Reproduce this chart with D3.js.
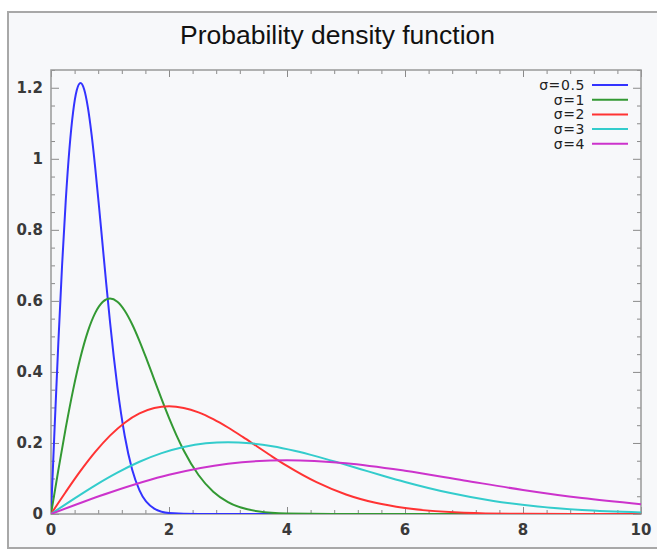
<!DOCTYPE html>
<html>
<head>
<meta charset="utf-8">
<script src="https://cdn.jsdelivr.net/npm/d3@7"></script>
<style>
  body { margin: 0; background: #fff; }
  svg { display: block; }
</style>
</head>
<body>
<div id="chart"></div>
<script>
// Series (x, density) for each sigma
const labels = ["σ=0.5", "σ=1", "σ=2", "σ=3", "σ=4"];
const colors = ["#3333ff", "#339933", "#ff3333", "#33cccc", "#cc33cc"];

const x_s05 = [0, 0.0625, 0.125, 0.1875, 0.25, 0.3125, 0.375, 0.4375, 0.5, 0.5625, 0.625, 0.6875, 0.75, 0.8125, 0.875, 0.9375, 1.0, 1.0625, 1.125, 1.25, 1.375, 1.5, 1.75, 2.0, 2.5, 10];
const y_s05 = [0, 0.2481, 0.4846, 0.6991, 0.8824, 1.0282, 1.1322, 1.1934, 1.2131, 1.1950, 1.1446, 1.0686, 0.9740, 0.8679, 0.7570, 0.6466, 0.5413, 0.4445, 0.3580, 0.2196, 0.1254, 0.0666, 0.0153, 0.0027, 0, 0];

const x_s1 = [0, 0.125, 0.25, 0.375, 0.5, 0.625, 0.75, 0.875, 1.0, 1.125, 1.25, 1.375, 1.5, 1.625, 1.75, 1.875, 2.0, 2.125, 2.25, 2.5, 2.75, 3.0, 3.5, 4.0, 5.0, 10];
const y_s1 = [0, 0.1240, 0.2423, 0.3495, 0.4412, 0.5141, 0.5661, 0.5967, 0.6065, 0.5975, 0.5723, 0.5343, 0.4870, 0.4339, 0.3785, 0.3233, 0.2707, 0.2223, 0.1790, 0.1098, 0.0627, 0.0333, 0.0077, 0.0013, 0, 0];

const x_s2 = [0, 0.25, 0.5, 0.75, 1, 1.25, 1.5, 1.75, 2, 2.25, 2.5, 2.75, 3, 3.25, 3.5, 3.75, 4, 4.5, 5, 5.5, 6, 7, 8, 10];
const y_s2 = [0, 0.0620, 0.1212, 0.1748, 0.2206, 0.2571, 0.2831, 0.2983, 0.3033, 0.2987, 0.2862, 0.2671, 0.2435, 0.2170, 0.1893, 0.1617, 0.1353, 0.0895, 0.0549, 0.0314, 0.0167, 0.0038, 0.0007, 0];

const x_s3 = [0, 0.375, 0.75, 1.125, 1.5, 1.875, 2.25, 2.625, 3, 3.375, 3.75, 4.125, 4.5, 4.875, 5.25, 5.625, 6, 6.75, 7.5, 8.25, 9, 10];
const y_s3 = [0, 0.0413, 0.0808, 0.1165, 0.1471, 0.1714, 0.1887, 0.1989, 0.2022, 0.1992, 0.1908, 0.1781, 0.1623, 0.1446, 0.1262, 0.1078, 0.0902, 0.0597, 0.0366, 0.0209, 0.0111, 0.0043];

const x_s4 = [0, 1, 2, 3, 4, 5, 6, 7, 8, 9, 10];
const y_s4 = [0, 0.0606, 0.1103, 0.1415, 0.1516, 0.1431, 0.1218, 0.0946, 0.0677, 0.0448, 0.0275];

const xTicks = [0, 2, 4, 6, 8, 10];
const yTicks = [0, 0.2, 0.4, 0.6, 0.8, 1, 1.2];

const series = [
  { xs: x_s05, ys: y_s05 },
  { xs: x_s1, ys: y_s1 },
  { xs: x_s2, ys: y_s2 },
  { xs: x_s3, ys: y_s3 },
  { xs: x_s4, ys: y_s4 }
];

// Dimensions
const W = 657, H = 550;
const plotLeft = 51, plotRight = 641, plotTop = 70, plotBottom = 514;

const svg = d3.select("#chart").append("svg")
  .attr("width", W)
  .attr("height", H);

// Outer panel
svg.append("rect")
  .attr("x", 8).attr("y", 12)
  .attr("width", W - 8 + 2).attr("height", 536)
  .attr("fill", "#f7f8fa")
  .attr("stroke", "#a8a8a8")
  .attr("stroke-width", 2);

// Title
svg.append("text")
  .attr("x", 337.5)
  .attr("y", 44)
  .attr("text-anchor", "middle")
  .attr("font-family", "Liberation Sans, Arial, sans-serif")
  .attr("font-size", 25)
  .attr("fill", "#111")
  .attr("textLength", 315)
  .attr("lengthAdjust", "spacingAndGlyphs")
  .text("Probability density function");

// Scales
const xScale = d3.scaleLinear().domain([0, 10]).range([plotLeft, plotRight]);
const yScale = d3.scaleLinear().domain([0, 1.25]).range([plotBottom, plotTop]);

const plot = svg.append("g");

// Ticks (inward, mirrored on all four sides)
const tickColor = "#8a8a8a";
const xMinor = d3.range(0, 10.001, 0.4);
const yMinor = d3.range(0, 1.2501, 0.05);

function isMajor(v, majors) {
  return majors.some(m => Math.abs(m - v) < 1e-6);
}

plot.append("g").attr("transform", `translate(0,${plotBottom})`)
  .call(d3.axisTop(xScale).tickValues(xMinor).tickFormat("").tickSizeOuter(0))
  .call(g => g.select(".domain").remove())
  .call(g => g.selectAll(".tick line").attr("stroke", tickColor)
    .attr("y2", d => isMajor(d, xTicks) ? -7 : -4));

plot.append("g").attr("transform", `translate(0,${plotTop})`)
  .call(d3.axisBottom(xScale).tickValues(xMinor).tickFormat("").tickSizeOuter(0))
  .call(g => g.select(".domain").remove())
  .call(g => g.selectAll(".tick line").attr("stroke", tickColor)
    .attr("y2", d => isMajor(d, xTicks) ? 7 : 4));

plot.append("g").attr("transform", `translate(${plotLeft},0)`)
  .call(d3.axisRight(yScale).tickValues(yMinor).tickFormat("").tickSizeOuter(0))
  .call(g => g.select(".domain").remove())
  .call(g => g.selectAll(".tick line").attr("stroke", tickColor)
    .attr("x2", d => isMajor(d, yTicks) ? 8 : 4));

plot.append("g").attr("transform", `translate(${plotRight},0)`)
  .call(d3.axisLeft(yScale).tickValues(yMinor).tickFormat("").tickSizeOuter(0))
  .call(g => g.select(".domain").remove())
  .call(g => g.selectAll(".tick line").attr("stroke", tickColor)
    .attr("x2", d => isMajor(d, yTicks) ? -8 : -4));

// Frame
plot.append("rect")
  .attr("x", plotLeft).attr("y", plotTop)
  .attr("width", plotRight - plotLeft).attr("height", plotBottom - plotTop)
  .attr("fill", "none")
  .attr("stroke", "#999")
  .attr("stroke-width", 1.5);

// Tick labels
const labelFont = "DejaVu Sans, sans-serif";
plot.selectAll(".xlab")
  .data(xTicks)
  .enter().append("text")
  .attr("class", "xlab")
  .attr("x", d => xScale(d))
  .attr("y", plotBottom + 21)
  .attr("text-anchor", "middle")
  .attr("font-family", labelFont)
  .attr("font-weight", "bold")
  .attr("font-size", 15)
  .attr("fill", "#3a3a3a")
  .text(d => d);

plot.selectAll(".ylab")
  .data(yTicks)
  .enter().append("text")
  .attr("class", "ylab")
  .attr("x", plotLeft - 8)
  .attr("y", d => yScale(d))
  .attr("dy", "0.36em")
  .attr("text-anchor", "end")
  .attr("font-family", labelFont)
  .attr("font-weight", "bold")
  .attr("font-size", 15)
  .attr("fill", "#3a3a3a")
  .text(d => d);

// Curves
const line = d3.line()
  .x(d => xScale(d[0]))
  .y(d => yScale(d[1]))
  .curve(d3.curveMonotoneX);

svg.append("clipPath").attr("id", "clip")
  .append("rect").attr("x", plotLeft).attr("y", plotTop - 2)
  .attr("width", plotRight - plotLeft + 1).attr("height", plotBottom - plotTop + 2);

series.forEach((s, i) => {
  const pts = s.xs.map((x, j) => [x, s.ys[j]]);
  plot.append("path")
    .datum(pts)
    .attr("clip-path", "url(#clip)")
    .attr("fill", "none")
    .attr("stroke", colors[i])
    .attr("stroke-width", 2)
    .attr("stroke-linejoin", "round")
    .attr("d", line);
});

// Legend
const legend = plot.append("g");
labels.forEach((lab, i) => {
  const y = 85 + i * 14.7;
  legend.append("text")
    .attr("x", 585)
    .attr("y", y)
    .attr("dy", "0.36em")
    .attr("text-anchor", "end")
    .attr("font-family", labelFont)
    .attr("font-size", 14)
    .attr("letter-spacing", 0.6)
    .attr("fill", "#222")
    .text(lab);
  legend.append("line")
    .attr("x1", 592).attr("x2", 628)
    .attr("y1", y).attr("y2", y)
    .attr("stroke", colors[i])
    .attr("stroke-width", 2);
});
</script>
</body>
</html>
